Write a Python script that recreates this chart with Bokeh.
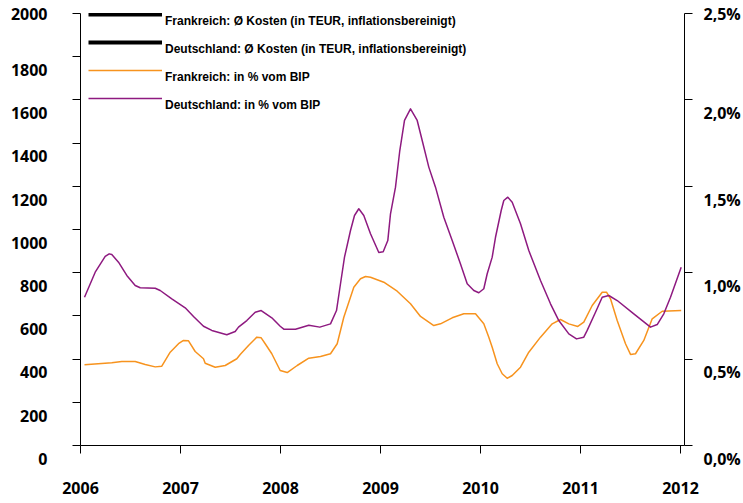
from bokeh.plotting import figure
from bokeh.models import (Range1d, LinearAxis, FixedTicker, CustomJSTickFormatter,
                          ColumnDataSource, Legend, LegendItem)
from bokeh.embed import file_html
from bokeh.resources import INLINE

# ---------------- data ----------------
de_years = [2006.04, 2006.147, 2006.247, 2006.287, 2006.313, 2006.38, 2006.463, 2006.547, 2006.597,
            2006.747, 2006.797, 2006.913, 2007.047, 2007.13, 2007.23, 2007.313, 2007.463, 2007.547,
            2007.58, 2007.663, 2007.747, 2007.807, 2007.913, 2007.997, 2008.033, 2008.15, 2008.283,
            2008.393, 2008.5, 2008.56, 2008.6, 2008.64, 2008.7, 2008.74, 2008.783, 2008.833, 2008.9,
            2008.983, 2009.027, 2009.073, 2009.1, 2009.15, 2009.193, 2009.24, 2009.3, 2009.367,
            2009.417, 2009.483, 2009.55, 2009.633, 2009.717, 2009.8, 2009.867, 2009.933, 2009.983,
            2010.033, 2010.067, 2010.117, 2010.15, 2010.207, 2010.233, 2010.273, 2010.317, 2010.4,
            2010.483, 2010.6, 2010.7, 2010.783, 2010.883, 2010.96, 2011.033, 2011.067, 2011.15,
            2011.217, 2011.283, 2011.367, 2011.533, 2011.7, 2011.767, 2011.833, 2011.9, 2012.007]
de_pct = [0.858, 1.003, 1.094, 1.109, 1.105, 1.061, 0.984, 0.926, 0.913,
          0.910, 0.897, 0.849, 0.797, 0.747, 0.690, 0.666, 0.641, 0.660,
          0.685, 0.723, 0.771, 0.781, 0.739, 0.690, 0.673, 0.673, 0.696,
          0.685, 0.704, 0.781, 0.936, 1.090, 1.244, 1.331, 1.370, 1.331, 1.225,
          1.117, 1.121, 1.186, 1.341, 1.495, 1.707, 1.881, 1.948, 1.881,
          1.765, 1.611, 1.495, 1.321, 1.186, 1.051, 0.936, 0.897, 0.884,
          0.907, 0.994, 1.090, 1.205, 1.360, 1.418, 1.437, 1.408, 1.283,
          1.128, 0.955, 0.820, 0.723, 0.646, 0.617, 0.627, 0.666, 0.771,
          0.858, 0.868, 0.839, 0.762, 0.685, 0.700, 0.762, 0.858, 1.032]

fr_years = [2006.04, 2006.313, 2006.413, 2006.547, 2006.647, 2006.747, 2006.813, 2006.897, 2006.98,
            2007.03, 2007.08, 2007.147, 2007.23, 2007.247, 2007.347, 2007.447, 2007.563, 2007.597,
            2007.68, 2007.763, 2007.807, 2007.847, 2007.913, 2007.963, 2007.997, 2008.067, 2008.167,
            2008.283, 2008.4, 2008.5, 2008.567, 2008.633, 2008.733, 2008.8, 2008.85, 2008.9,
            2009.033, 2009.167, 2009.3, 2009.4, 2009.533, 2009.6, 2009.717, 2009.833, 2009.95,
            2010.033, 2010.083, 2010.117, 2010.167, 2010.217, 2010.267, 2010.317, 2010.4, 2010.483,
            2010.6, 2010.717, 2010.8, 2010.883, 2010.973, 2011.033, 2011.117, 2011.217, 2011.26,
            2011.3, 2011.367, 2011.45, 2011.5, 2011.55, 2011.633, 2011.717, 2011.817, 2012.007]
fr_pct = [0.467, 0.479, 0.486, 0.486, 0.469, 0.455, 0.459, 0.540, 0.589,
          0.608, 0.606, 0.544, 0.502, 0.476, 0.453, 0.463, 0.502, 0.527,
          0.579, 0.627, 0.623, 0.589, 0.531, 0.473, 0.434, 0.422, 0.463,
          0.505, 0.515, 0.531, 0.589, 0.742, 0.916, 0.965, 0.978, 0.974,
          0.945, 0.893, 0.820, 0.747, 0.694, 0.704, 0.739, 0.762, 0.762,
          0.704, 0.627, 0.569, 0.473, 0.415, 0.389, 0.405, 0.453, 0.540,
          0.627, 0.704, 0.729, 0.704, 0.689, 0.714, 0.810, 0.887, 0.887,
          0.849, 0.723, 0.589, 0.527, 0.531, 0.608, 0.733, 0.777, 0.781]

# cost series (TEUR) -- no values are visible in the chart
NAN = float("nan")
fr_cost_years = [2006]
fr_cost = [NAN]
de_cost_years = [2006]
de_cost = [NAN]

year_ticks = [2006, 2007, 2008, 2009, 2010, 2011, 2012]
left_ticks = [0, 200, 400, 600, 800, 1000, 1200, 1400, 1600, 1800, 2000]
right_ticks = [0.0, 0.5, 1.0, 1.5, 2.0, 2.5]

labels = ["Frankreich: Ø Kosten (in TEUR, inflationsbereinigt)",
          "Deutschland: Ø Kosten (in TEUR, inflationsbereinigt)",
          "Frankreich: in % vom BIP",
          "Deutschland: in % vom BIP"]

ORANGE = "#F7931E"
PURPLE = "#8E1A80"
FONT = "Open Sans"

p = figure(width=743, height=503, output_backend="svg", toolbar_location=None,
           x_range=Range1d(2006, 2012.04), y_range=Range1d(0, 2000),
           x_axis_location=None, y_axis_location=None,
           min_border_left=80, min_border_right=59, min_border_top=13, min_border_bottom=58)
p.outline_line_color = None
p.xgrid.visible = False
p.ygrid.visible = False
p.background_fill_color = "white"
p.border_fill_color = "white"
p.extra_y_ranges = {"pct": Range1d(0, 2.5)}

def style_axis(ax, ticks, standoff):
    ax.ticker = FixedTicker(ticks=ticks)
    ax.major_tick_out = 8
    ax.major_tick_in = 0
    ax.minor_tick_out = 0
    ax.minor_tick_in = 0
    ax.axis_line_color = "black"
    ax.major_tick_line_color = "black"
    ax.axis_line_width = 1
    ax.major_label_standoff = standoff
    ax.major_label_text_font = FONT
    ax.major_label_text_font_style = "bold"
    ax.major_label_text_font_size = "16px"
    ax.major_label_text_color = "black"
    return ax

# the labels sit about half a line below their ticks, as in the original
left = style_axis(LinearAxis(), left_ticks, 25)
left.formatter = CustomJSTickFormatter(
    code="const s = tick.toFixed(0); return tick >= 2000 ? s : '\\n' + s;")
p.add_layout(left, "left")

right = style_axis(LinearAxis(y_range_name="pct"), right_ticks, 11)
right.formatter = CustomJSTickFormatter(
    code="const s = tick.toFixed(1).replace('.', ',') + '%'; return tick >= 2.5 ? s : '\\n' + s;")
p.add_layout(right, "right")

bottom = style_axis(LinearAxis(), year_ticks, 28)
bottom.formatter = CustomJSTickFormatter(code="return tick.toFixed(0);")
p.add_layout(bottom, "below")

# series
r_fc = p.line(x="x", y="y", source=ColumnDataSource(dict(x=fr_cost_years, y=fr_cost)),
              line_color="black", line_width=4)
r_dc = p.line(x="x", y="y", source=ColumnDataSource(dict(x=de_cost_years, y=de_cost)),
              line_color="black", line_width=4)
r_fr = p.line(x="x", y="y", source=ColumnDataSource(dict(x=fr_years, y=fr_pct)),
              line_color=ORANGE, line_width=1.5, y_range_name="pct", line_join="round")
r_de = p.line(x="x", y="y", source=ColumnDataSource(dict(x=de_years, y=de_pct)),
              line_color=PURPLE, line_width=1.5, y_range_name="pct", line_join="round")

legend = Legend(items=[LegendItem(label="\n" + labels[0], renderers=[r_fc]),
                       LegendItem(label="\n" + labels[1], renderers=[r_dc]),
                       LegendItem(label="\n" + labels[2], renderers=[r_fr]),
                       LegendItem(label="\n" + labels[3], renderers=[r_de])],
                location=(8, 333), orientation="vertical",
                glyph_width=74, glyph_height=28, label_height=28, spacing=0,
                label_standoff=3, padding=0, margin=0,
                border_line_color=None, background_fill_alpha=0,
                label_text_font="Liberation Sans", label_text_font_style="bold",
                label_text_font_size="12px", label_text_color="black")
p.add_layout(legend)

open("out.html", "w").write(file_html(p, INLINE))
